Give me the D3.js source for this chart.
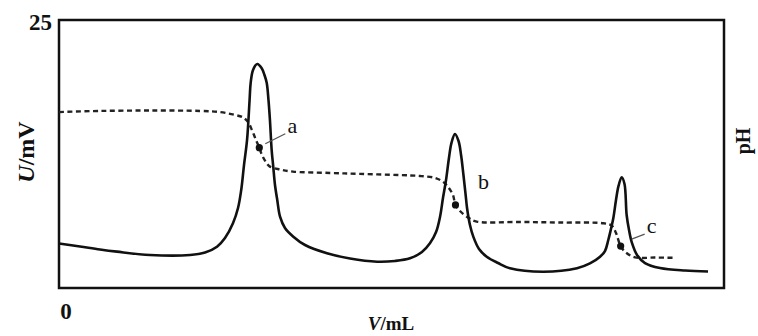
<!DOCTYPE html>
<html>
<head>
<meta charset="utf-8">
<script src="https://cdn.jsdelivr.net/npm/d3@7"></script>
<style>
  html, body { margin: 0; padding: 0; background: #fff; }
  svg { display: block; }
  text { font-family: "Liberation Serif", "DejaVu Serif", serif; fill: #111; }
</style>
</head>
<body>
<svg id="chart" width="758" height="336"></svg>
<script>
// --- datos ---
// curva de potencial U (mV) frente a volumen V (mL)
const uV = [0, 1.58, 3.08, 4.36, 6.84, 9.85, 10.98, 11.88, 12.48, 13.08, 13.46, 13.70,
  13.91, 14.14, 14.33, 14.41, 14.59, 14.91, 15.23, 15.45, 15.62, 15.75, 15.86, 15.99,
  16.11, 16.24, 16.41, 16.62, 16.99, 17.62, 18.50, 20.15, 21.88, 23.91, 25.26, 26.39,
  27.29, 27.89, 28.35, 28.65, 28.87, 29.10, 29.32, 29.51, 29.77, 30.04, 30.23, 30.41,
  30.56, 30.68, 30.90, 31.15, 31.58, 32.16, 33.01, 33.91, 36.39, 38.95, 39.92, 40.68,
  41.05, 41.30, 41.50, 41.68, 41.88, 42.07, 42.31, 42.52, 42.68, 42.86, 43.08, 43.46,
  44.06, 45.19, 47.07, 48.80];
const uMV = [4.15, 3.87, 3.59, 3.39, 3.08, 3.08, 3.31, 3.85, 4.66, 6.04, 7.46, 9.14,
  11.47, 13.81, 17.54, 19.12, 20.34, 20.90, 20.52, 19.87, 19.12, 17.54, 15.67, 12.87,
  11.31, 9.61, 8.21, 6.65, 5.60, 4.79, 4.01, 3.24, 2.75, 2.45, 2.52, 2.77,
  3.36, 4.17, 5.22, 6.65, 8.40, 10.07, 12.13, 13.53, 14.37, 13.71, 12.41, 10.54,
  8.86, 7.46, 5.88, 4.79, 3.64, 2.92, 2.33, 1.84, 1.52, 1.84, 2.29, 2.92,
  3.45, 4.48, 5.50, 6.53, 8.21, 9.52, 10.33, 9.70, 6.81, 5.41, 4.20, 3.08,
  2.33, 1.87, 1.63, 1.54];

// curva de pH frente a volumen V (mL)
const phV = [0, 3.08, 6.84, 10.60, 12.11, 13.23, 13.83, 14.21, 14.51, 14.81, 15.06,
  15.26, 15.56, 15.86, 16.62, 17.59, 20.38, 22.63, 25.64, 27.14, 28.27, 28.87, 29.25,
  29.62, 29.81, 30.15, 30.75, 31.41, 34.66, 37.67, 40.93, 41.56, 41.88, 42.23, 42.63,
  43.31, 44.81, 46.32];
const phVal = [9.19, 9.25, 9.27, 9.25, 9.19, 9.04, 8.91, 8.67, 8.25, 7.73, 7.33,
  6.95, 6.58, 6.34, 6.19, 6.08, 6.01, 5.96, 5.90, 5.85, 5.75, 5.55, 5.28,
  4.86, 4.34, 4.02, 3.68, 3.47, 3.45, 3.42, 3.38, 3.26, 2.87, 2.19, 1.85,
  1.60, 1.59, 1.58];

// puntos de equivalencia marcados
const markLabels = ["a", "b", "c"];
const markV = [15.06, 29.81, 42.23];
const markPH = [7.33, 4.34, 2.19];

// ejes
const uDomain = [0, 25];
const phDomain = [0, 14];
const vDomain = [0, 50];
const uTickLabels = ["25"];
const vTickLabels = ["0"];

// --- dibujo ---
const svg = d3.select("#chart");
const box = { left: 59, right: 724, top: 20, bottom: 288 };

const x = d3.scaleLinear().domain(vDomain).range([box.left, box.right]);
const yU = d3.scaleLinear().domain(uDomain).range([box.bottom, box.top]);
const yPH = d3.scaleLinear().domain(phDomain).range([box.bottom, box.top]);

const curve = d3.curveCatmullRom.alpha(0.5);

// marco
svg.append("rect")
  .attr("x", box.left).attr("y", box.top)
  .attr("width", box.right - box.left).attr("height", box.bottom - box.top)
  .attr("fill", "none").attr("stroke", "#111").attr("stroke-width", 2.5);

// curva pH (discontinua)
const phLine = d3.line().x(d => x(d[0])).y(d => yPH(d[1])).curve(curve);
svg.append("path")
  .datum(d3.zip(phV, phVal))
  .attr("d", phLine)
  .attr("fill", "none")
  .attr("stroke", "#222")
  .attr("stroke-width", 2.4)
  .attr("stroke-dasharray", "5,3.5");

// curva U (continua)
const uLine = d3.line().x(d => x(d[0])).y(d => yU(d[1])).curve(curve);
svg.append("path")
  .datum(d3.zip(uV, uMV))
  .attr("d", uLine)
  .attr("fill", "none")
  .attr("stroke", "#111")
  .attr("stroke-width", 2.6)
  .attr("stroke-linejoin", "round");

// marcas a, b, c
const labelOffset = { a: [33, -15], b: [28, -16], c: [31, -13] };
const leader = { a: [[6, -4], [26, -14]], c: [[11, -7], [24, -12]] };
const marks = svg.append("g").selectAll("g")
  .data(markLabels.map((l, i) => ({ l, v: markV[i], p: markPH[i] })))
  .join("g")
  .attr("transform", d => `translate(${x(d.v)},${yPH(d.p)})`);

marks.append("circle").attr("r", 3.6).attr("fill", "#111");
marks.filter(d => leader[d.l])
  .append("line")
  .attr("x1", d => leader[d.l][0][0]).attr("y1", d => leader[d.l][0][1])
  .attr("x2", d => leader[d.l][1][0]).attr("y2", d => leader[d.l][1][1])
  .attr("stroke", "#555").attr("stroke-width", 1.2);
marks.append("text")
  .attr("x", d => labelOffset[d.l][0])
  .attr("y", d => labelOffset[d.l][1])
  .attr("text-anchor", "middle")
  .attr("font-size", 22)
  .text(d => d.l);

// etiquetas de ejes
svg.append("text")
  .attr("x", box.left - 7).attr("y", yU(uDomain[1]) + 10)
  .attr("text-anchor", "end")
  .attr("font-size", 23).attr("font-weight", "bold")
  .text(uTickLabels[0]);

svg.append("text")
  .attr("x", x(vDomain[0]) + 7).attr("y", 319)
  .attr("text-anchor", "middle")
  .attr("font-size", 23).attr("font-weight", "bold")
  .text(vTickLabels[0]);

const uLabel = svg.append("text")
  .attr("transform", "translate(34,152) rotate(-90)")
  .attr("text-anchor", "middle")
  .attr("font-size", 24).attr("font-weight", "bold");
uLabel.append("tspan").attr("font-style", "italic").text("U");
uLabel.append("tspan").text("/mV");

const vLabel = svg.append("text")
  .attr("x", 391).attr("y", 330)
  .attr("text-anchor", "middle")
  .attr("font-size", 19).attr("font-weight", "bold");
vLabel.append("tspan").attr("font-style", "italic").text("V");
vLabel.append("tspan").text("/mL");

svg.append("text")
  .attr("transform", "translate(750,141) rotate(-90)")
  .attr("text-anchor", "middle")
  .attr("font-size", 20).attr("font-weight", "bold")
  .text("pH");
</script>
</body>
</html>
